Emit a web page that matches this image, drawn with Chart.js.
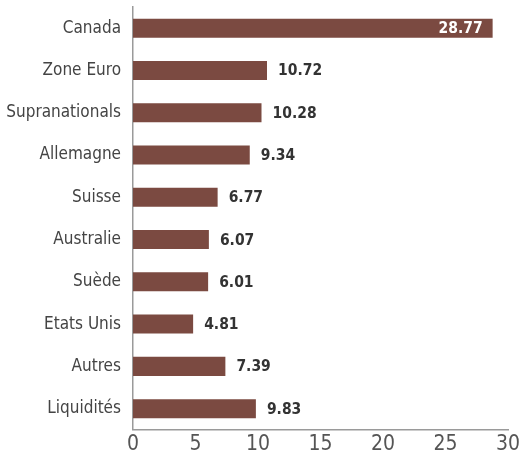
<!DOCTYPE html>
<html>
<head>
<meta charset="utf-8">
<script src="https://cdn.jsdelivr.net/npm/chart.js@4/dist/chart.umd.min.js"></script>
<style>
  html, body { margin: 0; padding: 0; background: #fff; }
  #wrap { width: 524px; height: 459px; position: relative; }
</style>
</head>
<body>
<div id="wrap"><canvas id="chart"></canvas></div>
<script>
const categories = ['Canada', 'Zone Euro', 'Supranationals', 'Allemagne', 'Suisse', 'Australie', 'Suède', 'Etats Unis', 'Autres', 'Liquidités'];
const values = [28.77, 10.72, 10.28, 9.34, 6.77, 6.07, 6.01, 4.81, 7.39, 9.83];
const xTicks = [0, 5, 10, 15, 20, 25, 30];

const FONT = '"Liberation Sans Narrow", "DejaVu Sans Condensed", sans-serif';
const BAR = '#7b4a41';

// value labels next to (or inside, for the long one) each bar
const valueLabels = {
    id: 'valueLabels',
    afterDatasetsDraw(chart) {
        const ctx = chart.ctx;
        const meta = chart.getDatasetMeta(0);
        ctx.save();
        ctx.font = 'bold 15.5px ' + FONT;
        ctx.textBaseline = 'middle';
        meta.data.forEach((bar, i) => {
            const txt = values[i].toFixed(2);
            if (values[i] > 20) {
                ctx.fillStyle = '#ffffff';
                ctx.textAlign = 'right';
                ctx.fillText(txt, bar.x - 10, bar.y + 1);
            } else {
                ctx.fillStyle = '#333333';
                ctx.textAlign = 'left';
                ctx.fillText(txt, bar.x + 11, bar.y + 1);
            }
        });
        ctx.restore();
    }
};

new Chart(document.getElementById('chart'), {
    type: 'bar',
    data: {
        labels: categories,
        datasets: [{
            data: values,
            backgroundColor: BAR,
            barPercentage: 0.45,
            categoryPercentage: 1.0
        }]
    },
    options: {
        indexAxis: 'y',
        responsive: true,
        maintainAspectRatio: false,
        animation: false,
        layout: { padding: { top: 7, right: 0, left: 0, bottom: 0 } },
        plugins: { legend: { display: false }, tooltip: { enabled: false } },
        scales: {
            x: {
                min: 0,
                max: 30,
                afterBuildTicks: axis => { axis.ticks = xTicks.map(v => ({ value: v })); },
                afterFit: axis => { axis.paddingRight = 16; axis.paddingLeft = 0; },
                grid: { display: false, drawTicks: false },
                border: { display: true, color: '#9a9a9a', width: 1.5 },
                ticks: { color: '#555', font: { family: FONT, size: 21 }, padding: 2 }
            },
            y: {
                afterFit: axis => { axis.width = 133; axis.paddingTop = 0; axis.paddingBottom = 0; },
                grid: { display: false, drawTicks: false },
                border: { display: true, color: '#9a9a9a', width: 1.5 },
                ticks: { color: '#444', font: { family: FONT, size: 17 }, padding: 12 }
            }
        }
    },
    plugins: [valueLabels]
});
</script>
</body>
</html>
